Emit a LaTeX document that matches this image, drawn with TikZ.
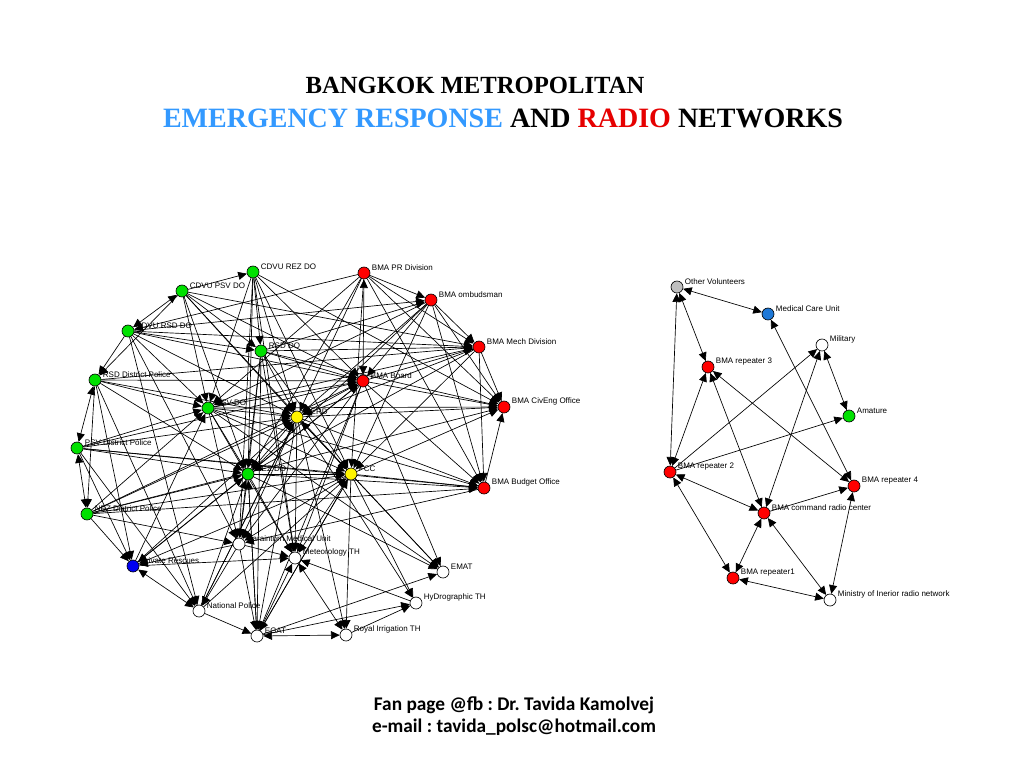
\documentclass[tikz,border=0pt]{standalone}
\usepackage{fontspec}
\setmainfont{Liberation Serif}
\setsansfont{Liberation Sans}
\newfontfamily\calibri{Carlito}
\usetikzlibrary{arrows.meta}
\pgfdeclarelayer{bg}
\pgfsetlayers{bg,main}
\definecolor{ergreen}{RGB}{0,225,0}
\definecolor{eryellow}{RGB}{255,245,0}
\definecolor{erblue}{RGB}{0,0,240}
\definecolor{mcublue}{RGB}{30,120,215}
\definecolor{ovgrey}{RGB}{190,190,190}
\definecolor{titleblue}{RGB}{51,153,255}
\definecolor{titlered}{RGB}{230,0,0}
\frenchspacing

\begin{document}
\begin{tikzpicture}[x=0.75pt,y=-0.75pt]
\tikzstyle{actor}=[circle,draw,line width=0.5pt,minimum size=9pt,inner sep=0pt];
\tikzstyle{lbl}=[font=\sffamily\fontsize{6}{7}\selectfont,inner sep=1pt,yshift=4pt];
\tikzstyle{tie}=[line width=0.5pt,-{Triangle[length=6.5pt,width=6pt]}];
\tikzstyle{mutual}=[line width=0.5pt,{Triangle[length=6.5pt,width=6pt]}-{Triangle[length=6.5pt,width=6pt]}];

\useasboundingbox (0,0) rectangle (1024,768);

% title and footer
\node [font=\bfseries\fontsize{18.5}{21}\selectfont,anchor=base] (title1) at (475,93) {BANGKOK METROPOLITAN};
\node [font=\bfseries\fontsize{21}{23}\selectfont,anchor=base] (title2) at (503,127)
  {\textcolor{titleblue}{EMERGENCY RESPONSE} AND \textcolor{titlered}{RADIO} NETWORKS};
\node [font=\calibri\bfseries\fontsize{14.5}{16.5}\selectfont,align=center] (footer) at (514,716)
  {Fan page @fb : Dr. Tavida Kamolvej\\e-mail : tavida\_polsc@hotmail.com};

% emergency response network
\node [actor,fill=ergreen,label={[lbl]right:CDVU REZ DO}] (crez) at (253,272) {};
\node [actor,fill=ergreen,label={[lbl]right:CDVU PSV DO}] (cpsv) at (182,291) {};
\node [actor,fill=ergreen,label={[lbl]right:CDVU RSD DO}] (crsd) at (128,331) {};
\node [actor,fill=ergreen,label={[lbl]right:RSD DO}] (rsddo) at (261,351) {};
\node [actor,fill=ergreen,label={[lbl]right:RSD District Police}] (rsdp) at (95,380) {};
\node [actor,fill=ergreen,label={[lbl]right:PSV DO}] (psvdo) at (208,408) {};
\node [actor,fill=eryellow,label={[lbl]right:CERD}] (cerd) at (297,417) {};
\node [actor,fill=ergreen,label={[lbl]right:PSV District Police}] (psvp) at (77,448) {};
\node [actor,fill=ergreen,label={[lbl]right:NEZ DO}] (nezdo) at (248,474) {};
\node [actor,fill=eryellow,label={[lbl]right:FCC}] (fcc) at (351,474) {};
\node [actor,fill=ergreen,label={[lbl]right:NEZ District Police}] (nezp) at (87,514) {};
\node [actor,fill=white,label={[lbl]right:Naraintorn Medical Unit}] (nmu) at (239,544) {};
\node [actor,fill=erblue,label={[lbl]right:Private Rescues}] (prr) at (133,566) {};
\node [actor,fill=white,label={[lbl]right:Meteorology TH}] (met) at (295,558) {};
\node [actor,fill=white,label={[lbl]right:EMAT}] (emat) at (443,572) {};
\node [actor,fill=white,label={[lbl]right:HyDrographic TH}] (hyd) at (416,603) {};
\node [actor,fill=white,label={[lbl]right:National Police}] (natp) at (199,611) {};
\node [actor,fill=white,label={[lbl]right:EGAT}] (egat) at (257,636) {};
\node [actor,fill=white,label={[lbl]right:Royal Irrigation TH}] (rit) at (346,635) {};
\node [actor,fill=red,label={[lbl]right:BMA PR Division}] (bpr) at (364,273) {};
\node [actor,fill=red,label={[lbl]right:BMA ombudsman}] (bomb) at (431,300) {};
\node [actor,fill=red,label={[lbl]right:BMA Mech Division}] (bmech) at (479,347) {};
\node [actor,fill=red,label={[lbl]right:BMA Board}] (bboard) at (363,381) {};
\node [actor,fill=red,label={[lbl]right:BMA CivEng Office}] (bcive) at (504,407) {};
\node [actor,fill=red,label={[lbl]right:BMA Budget Office}] (bbud) at (484,488) {};

% radio network
\node [actor,fill=ovgrey,label={[lbl]right:Other Volunteers}] (ov) at (677,287) {};
\node [actor,fill=mcublue,label={[lbl]right:Medical Care Unit}] (mcu) at (768,314) {};
\node [actor,fill=white,label={[lbl]right:Military}] (mil) at (822,345) {};
\node [actor,fill=red,label={[lbl]right:BMA repeater 3}] (rep3) at (708,367) {};
\node [actor,fill=ergreen,label={[lbl]right:Amature}] (ama) at (849,416) {};
\node [actor,fill=red,label={[lbl]right:BMA repeater 2}] (rep2) at (670,472) {};
\node [actor,fill=red,label={[lbl]right:BMA repeater 4}] (rep4) at (854,486) {};
\node [actor,fill=red,label={[lbl]right:BMA command radio center}] (cmd) at (764,513) {};
\node [actor,fill=red,label={[lbl]right:BMA repeater1}] (rep1) at (733,578) {};
\node [actor,fill=white,label={[lbl]right:Ministry of Inerior radio network}] (moi) at (830,600) {};

\begin{pgfonlayer}{bg}
\fill[white] (0,0) rectangle (1024,768);
\foreach \a/\b in {crez/nezdo,crez/rsddo,crez/cerd,crez/bboard,crez/fcc,crez/nmu,crez/psvdo,crez/met,crez/bcive,
  cpsv/crez,cpsv/psvdo,cpsv/rsddo,cpsv/cerd,cpsv/bboard,cpsv/nezdo,cpsv/fcc,cpsv/rsdp,cpsv/bmech,
  crsd/rsdp,crsd/rsddo,crsd/cerd,crsd/bboard,crsd/psvdo,crsd/nmu,crsd/natp,crsd/bmech,crsd/bomb,
  rsdp/bboard,rsdp/psvdo,rsdp/cerd,rsdp/nezdo,rsdp/natp,rsdp/nezp,rsdp/prr,rsdp/bmech,
  psvp/psvdo,psvp/cerd,psvp/bboard,psvp/nezdo,psvp/natp,psvp/prr,psvp/fcc,psvp/bbud,
  nezp/nezdo,nezp/cerd,nezp/fcc,nezp/bboard,nezp/prr,nezp/nmu,nezp/psvdo,nezp/bbud,nezp/bcive,
  rsddo/bmech,rsddo/cerd,rsddo/bboard,rsddo/fcc,rsddo/nezdo,rsddo/nmu,rsddo/bomb,rsddo/bcive,rsddo/met,rsddo/egat,
  psvdo/cerd,psvdo/bcive,psvdo/bboard,psvdo/fcc,psvdo/nezdo,psvdo/nmu,psvdo/met,psvdo/bmech,psvdo/emat,psvdo/bbud,
  cerd/bcive,cerd/nmu,cerd/met,cerd/emat,cerd/bbud,cerd/hyd,cerd/rit,cerd/egat,cerd/natp,
  nezdo/fcc,nezdo/nmu,nezdo/met,nezdo/bboard,nezdo/bbud,nezdo/emat,nezdo/egat,
  fcc/bbud,fcc/met,fcc/egat,fcc/nmu,fcc/bcive,fcc/rit,fcc/emat,fcc/hyd,fcc/prr,
  bboard/bcive,bboard/bbud,bboard/nmu,bboard/met,bboard/egat,bboard/prr,bboard/emat,bboard/bmech,
  bpr/bomb,bpr/bmech,bpr/bcive,bpr/bbud,bpr/psvdo,bpr/nezdo,bpr/fcc,bpr/crsd,bpr/cerd,
  bomb/bmech,bomb/bcive,bomb/bbud,bomb/cerd,bomb/nezdo,bomb/psvdo,bomb/fcc,bomb/bboard,
  bmech/bcive,bmech/bbud,bmech/nezdo,bmech/fcc,bmech/cerd,
  bbud/bcive,bbud/nmu,
  prr/met,prr/nezdo,prr/psvdo,prr/cerd,
  nmu/prr,nmu/natp,nmu/egat,nmu/met,
  natp/egat,natp/nezdo,natp/cerd,natp/fcc,
  egat/emat,egat/hyd,egat/met,egat/nezdo,egat/fcc,
  hyd/met,rit/hyd}
  \draw [tie] (\a) -- (\b);
\foreach \a/\b in {crsd/cpsv,rsdp/psvp,psvp/nezp,cerd/bboard,cerd/fcc,cerd/nezdo,bboard/bpr,egat/rit,prr/natp,rit/met}
  \draw [mutual] (\a) -- (\b);

\foreach \a/\b in {rep2/mil,rep2/ama,cmd/rep4}
  \draw [tie] (\a) -- (\b);
\foreach \a/\b in {ov/mcu,ov/rep2,ov/rep3,mcu/rep4,mil/ama,mil/cmd,rep3/rep2,rep3/cmd,rep3/rep4,
  rep2/cmd,rep2/rep1,cmd/rep1,cmd/moi,rep1/moi,rep4/moi}
  \draw [mutual] (\a) -- (\b);
\end{pgfonlayer}
\end{tikzpicture}
\end{document}
